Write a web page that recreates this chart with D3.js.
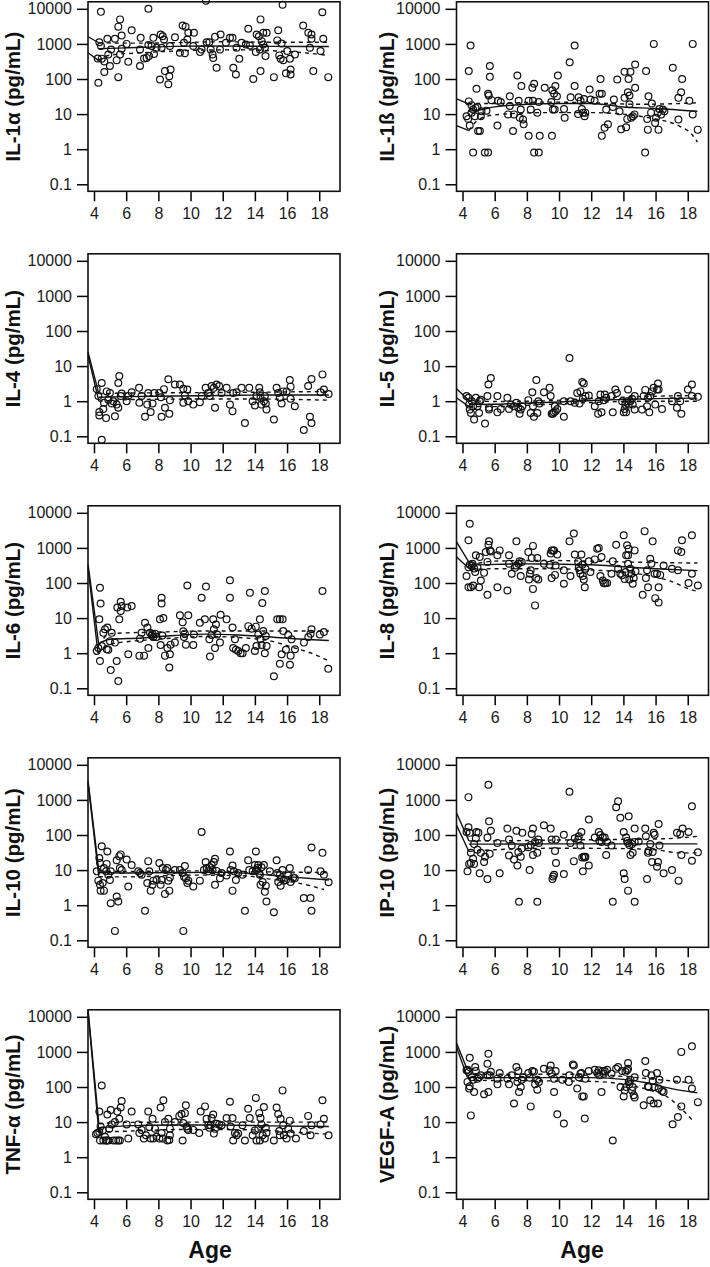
<!DOCTYPE html>
<html><head><meta charset="utf-8">
<script src="https://cdn.jsdelivr.net/npm/d3@7"></script>
<style>body{margin:0;background:#fff}svg{display:block}</style>
</head><body>
<svg id="c" width="710" height="1267"></svg>
<script>
const ageTicks=[4,6,8,10,12,14,16,18];
const yTicks=[0.1,1,10,100,1000,10000];
const yTickLabels=["0.1","1","10","100","1000","10000"];
const panelNames=["IL-1α (pg/mL)","IL-1ß (pg/mL)","IL-4 (pg/mL)","IL-5 (pg/mL)","IL-6 (pg/mL)","IL-8 (pg/mL)","IL-10 (pg/mL)","IP-10 (pg/mL)","TNF-α (pg/mL)","VEGF-A (pg/mL)"];
const xLabel="Age";

const il1a=[[4.27,78],[4.23,385],[4.43,8200],[4.33,1120],[4.43,870],[4.48,380],[4.64,158],[4.64,316],[4.83,1400],[4.89,500],[4.99,234],[5.06,690],[5.3,1400],[5.41,345],[5.51,113],[5.51,3100],[5.62,5000],[5.62,500],[5.72,1740],[5.72,730],[6.03,1000],[6.13,310],[6.34,2460],[6.86,234],[6.9,1490],[6.86,690],[7.11,385],[7.27,400],[7.38,10000],[7.38,930],[7.42,450],[7.58,870],[7.69,1490],[7.73,520],[7.89,775],[8.1,97],[8.14,1860],[8.27,1660],[8.35,1340],[8.2,775],[8.41,168],[8.62,71],[8.68,120],[8.76,187],[8.72,870],[9.03,1550],[9.34,560],[9.51,3350],[9.65,540],[9.69,3100],[9.8,1340],[9.86,2070],[9.59,1080],[10.17,870],[10.21,2070],[10.59,585],[10.69,690],[10.96,17000],[11.0,1120],[11.17,1120],[11.25,690],[11.37,500],[11.41,400],[11.52,1590],[11.62,210],[11.83,690],[11.87,1860],[12.2,1080],[12.45,1490],[12.61,1490],[12.66,210],[12.82,135],[12.86,775],[13.03,375],[13.17,1080],[13.44,960],[13.59,2700],[13.69,900],[13.9,100],[14.06,585],[14.11,1860],[14.25,1660],[14.31,690],[14.35,5000],[14.35,168],[14.42,1200],[14.52,960],[14.62,775],[14.66,450],[14.52,2070],[14.73,2070],[15.18,113],[15.45,2460],[15.39,1260],[15.51,470],[15.6,375],[15.66,1030],[15.72,13000],[15.76,345],[15.93,145],[16.01,625],[16.22,135],[16.22,187],[16.18,375],[16.49,500],[17.0,3350],[17.32,2070],[17.52,1860],[17.52,1400],[17.42,775],[17.63,168],[18.08,625],[18.19,8000],[18.25,1400],[18.56,113]];
const il1aFit=[[4.3,730],[5.5,760],[7,800],[9,850],[11,870],[13,860],[15,850],[17,845],[18.6,840]];
const il1aUp=[[3.63,1600],[4.3,1080],[6,1050],[9,1080],[12,1150],[15,1120],[18.6,1120]];
const il1aLo=[[3.63,560],[4.27,340],[5,480],[7,560],[10,650],[13,680],[15,640],[17,560],[18.6,470]];

const il1b=[[4.25,8.7],[4.35,7.3],[4.39,168],[4.39,23],[4.5,900],[4.45,4.7],[4.56,18],[4.56,11],[4.66,0.8],[4.66,13.5],[4.77,8.7],[4.81,15],[4.87,53],[4.93,16],[4.97,3.3],[5.08,3.3],[5.14,8.7],[5.18,12],[5.39,0.8],[5.49,12.5],[5.59,0.8],[5.59,38],[5.63,34],[5.7,234],[5.7,115],[5.8,25],[6.21,24],[6.17,4.7],[6.38,22],[6.94,32],[6.94,17],[6.83,9.8],[7.14,3.3],[7.2,9.8],[7.41,126],[7.49,24],[7.56,7.9],[7.62,13.5],[7.66,63],[7.76,7],[7.8,5.1],[8.11,2.4],[8.11,24],[8.24,13.5],[8.34,56],[8.45,73],[8.38,24],[8.45,0.8],[8.65,11],[8.74,0.8],[8.8,2.4],[8.74,22],[9.11,56],[9.52,22],[9.56,2.4],[9.58,48],[9.62,13.5],[9.69,38],[9.77,63],[9.73,13.5],[9.87,32],[9.93,126],[10.35,7.9],[10.31,14],[10.66,300],[10.72,30],[10.97,900],[10.97,63],[11.18,10],[11.22,30],[11.34,24],[11.42,14],[11.49,11],[11.55,27],[11.59,8.7],[11.63,11],[11.9,50],[11.96,26],[12.21,24],[12.52,38],[12.58,100],[12.66,38],[12.66,2.4],[12.83,4.1],[12.93,13.5],[13.04,5.1],[13.35,16],[13.41,26],[13.62,97],[13.76,12],[13.86,3.7],[14.07,29],[14.07,160],[14.17,4.2],[14.24,7.3],[14.28,42],[14.32,100],[14.38,34],[14.38,19],[14.44,160],[14.48,7.9],[14.59,8.7],[14.69,9.8],[14.73,56],[14.73,260],[15.35,0.8],[15.41,168],[15.48,7.3],[15.52,3.6],[15.56,32],[15.72,11],[15.77,20],[15.89,1000],[15.97,5.6],[16.03,7.9],[16.14,11],[16.18,3.6],[16.24,14],[16.35,9.8],[16.45,13.5],[16.55,12],[17.07,210],[17.42,7],[17.42,29],[17.59,42],[17.65,100],[18.1,24],[18.31,1000],[18.31,9.8],[18.62,3.6]];
const il1bFit=[[4.35,12],[5,13],[6,16],[8,19],[10,20],[12,20],[14,16],[16,14.5],[18.6,12]];
const il1bUp=[[3.63,27],[4.35,20],[6,20],[9,22],[12,21],[15,19],[18.6,21]];
const il1bLo=[[3.63,4.7],[4.4,3.4],[5,7],[6,9.5],[9,11],[12,11],[14,10],[15.5,8],[16.5,6.5],[17.5,4.5],[18.3,2.5],[18.6,1.6]];

const il4=[[4.17,2.2],[4.27,1.4],[4.33,0.49],[4.33,0.39],[4.48,3.3],[4.48,0.08],[4.58,0.6],[4.62,0.9],[4.75,0.33],[4.79,1.9],[4.89,1.1],[4.99,1.7],[5.1,0.86],[5.2,1.0],[5.3,0.37],[5.41,0.8],[5.51,3.3],[5.57,5.2],[5.51,0.65],[5.66,1.4],[5.72,1.65],[6.03,1.0],[6.13,1.4],[6.34,1.8],[6.8,2.4],[6.82,0.9],[6.96,1.4],[7.17,0.36],[7.31,0.8],[7.37,1.7],[7.52,0.49],[7.64,0.86],[7.75,1.7],[8.06,1.7],[8.16,1.3],[8.2,0.36],[8.35,2.2],[8.41,0.65],[8.62,4.2],[8.68,0.44],[8.72,1.07],[9.03,3.0],[9.34,3.0],[9.55,2.25],[9.55,0.9],[9.65,1.45],[9.8,2.15],[9.86,1.0],[10.17,0.8],[10.58,0.94],[10.69,1.4],[10.94,2.4],[11.1,1.7],[11.2,1.4],[11.31,2.7],[11.45,2.4],[11.52,0.65],[11.62,3.0],[11.78,2.7],[11.93,1.7],[12.24,2.4],[12.45,0.8],[12.61,0.52],[12.65,1.7],[12.86,1.8],[13.17,2.4],[13.38,0.24],[13.65,2.4],[13.86,1.0],[14.0,0.75],[14.1,1.4],[14.27,2.4],[14.31,1.8],[14.35,1.25],[14.41,0.8],[14.56,1.0],[14.62,1.4],[14.68,0.86],[14.72,0.58],[15.18,0.3],[15.35,2.4],[15.45,1.7],[15.55,1.25],[15.66,0.86],[15.76,1.9],[15.97,1.9],[16.17,4.0],[16.22,2.6],[16.22,1.17],[16.48,0.72],[17.04,0.15],[17.31,2.7],[17.42,0.36],[17.52,0.24],[17.52,4.3],[18.08,1.8],[18.2,5.8],[18.29,2.15],[18.58,1.6]];
const il4Fit=[[4.3,1.3],[6,1.35],[9,1.4],[12,1.45],[15,1.5],[18.6,1.5]];
const il4Up=[[3.63,25],[4.3,1.65],[6,1.7],[10,1.75],[14,1.8],[18.6,1.9]];
const il4Lo=[[3.63,20],[4.3,1.0],[6,1.1],[10,1.15],[14,1.15],[18.6,1.07]];

const il5=[[4.25,1.4],[4.37,1.25],[4.41,0.8],[4.45,0.58],[4.52,0.46],[4.58,1.0],[4.66,0.72],[4.72,0.3],[4.83,1.25],[4.93,0.72],[5.03,0.46],[5.07,1.0],[5.14,1.1],[5.4,0.23],[5.55,1.4],[5.61,3.0],[5.65,0.58],[5.76,4.6],[5.65,0.65],[6.17,0.48],[6.17,1.4],[6.38,0.6],[6.79,1.25],[6.89,0.6],[7.0,0.8],[7.2,0.72],[7.35,0.9],[7.47,0.65],[7.55,0.44],[7.62,0.58],[7.72,0.72],[8.09,1.07],[8.24,0.46],[8.34,1.8],[8.38,0.72],[8.44,0.36],[8.59,4.0],[8.65,0.46],[8.71,1.0],[8.79,0.86],[9.06,1.8],[9.41,2.4],[9.48,1.4],[9.54,0.44],[9.62,0.44],[9.68,0.48],[9.74,0.72],[9.79,0.52],[9.89,0.6],[10.3,0.36],[10.3,1.0],[10.65,17],[10.71,1.0],[10.98,0.9],[11.13,1.7],[11.27,0.86],[11.33,1.9],[11.44,3.5],[11.54,3.2],[11.48,1.17],[11.64,1.4],[11.85,1.45],[12.22,0.72],[12.43,0.44],[12.47,1.0],[12.57,1.55],[12.64,0.48],[12.78,1.07],[12.84,1.55],[12.93,1.25],[13.26,1.4],[13.34,0.48],[13.5,2.15],[13.6,1.7],[13.92,1.0],[14.02,0.48],[14.08,0.6],[14.12,0.8],[14.17,0.48],[14.23,1.0],[14.29,2.15],[14.33,0.8],[14.43,1.0],[14.54,1.17],[14.58,0.8],[14.7,1.4],[14.7,0.58],[15.16,0.58],[15.26,1.4],[15.36,2.1],[15.47,0.72],[15.53,1.25],[15.61,0.48],[15.67,1.4],[15.78,1.9],[15.88,2.4],[15.98,0.8],[16.09,2.15],[16.15,3.2],[16.19,2.15],[16.4,0.6],[17.02,1.0],[17.33,0.65],[17.39,1.4],[17.53,1.0],[17.6,0.44],[18.01,2.15],[18.26,3.0],[18.26,1.4],[18.63,1.33]];
const il5Fit=[[4.4,0.8],[6,0.82],[8,0.88],[10,0.95],[12,1.05],[14,1.12],[16,1.18],[18.6,1.22]];
const il5Up=[[3.63,2.25],[4.4,1.05],[6,0.98],[9,1.02],[12,1.2],[15,1.35],[18.6,1.45]];
const il5Lo=[[3.63,1.25],[4.4,0.7],[6,0.7],[9,0.8],[12,0.92],[15,1.0],[18.6,1.0]];

const il6=[[4.17,1.15],[4.27,1.4],[4.37,73],[4.41,26],[4.33,9.2],[4.37,0.6],[4.48,1.6],[4.58,3.8],[4.68,4.8],[4.83,5.4],[4.79,1.3],[4.89,1.25],[4.99,2.2],[5.04,0.33],[5.1,3.8],[5.3,2.0],[5.41,0.6],[5.45,20],[5.51,0.16],[5.57,9.2],[5.66,16],[5.66,29],[5.72,22],[6.07,20],[6.13,0.93],[6.34,22],[6.82,0.85],[6.86,2.6],[6.96,3.8],[7.11,0.85],[7.17,7.4],[7.32,5.4],[7.38,1.4],[7.48,3.8],[7.58,3.2],[7.64,3.5],[7.69,2.9],[7.79,3.6],[7.89,2.9],[8.14,1.7],[8.2,38],[8.2,26],[8.1,9.2],[8.25,3.2],[8.31,10],[8.41,0.85],[8.56,1.4],[8.68,0.39],[8.72,0.93],[8.76,1.75],[9.03,2.0],[9.34,12],[9.51,7.6],[9.55,4.2],[9.59,2.9],[9.65,3.6],[9.71,1.75],[9.8,85],[9.86,12],[10.17,1.7],[10.21,3.4],[10.58,7.4],[10.69,38],[10.89,9.2],[10.96,79],[11.17,2.5],[11.21,0.8],[11.31,3.3],[11.41,9.2],[11.45,4.8],[11.52,1.4],[11.58,6.6],[11.66,3.4],[11.83,2.0],[11.87,12.5],[12.24,9.2],[12.45,120],[12.45,38],[12.61,5.4],[12.65,1.4],[12.76,2.5],[12.82,1.25],[12.97,1.15],[13.11,1.0],[13.24,1.0],[13.44,1.4],[13.59,5.9],[13.69,53],[13.8,5.0],[14.0,1.15],[14.06,5.7],[14.1,1.6],[14.21,3.4],[14.31,9.2],[14.35,2.5],[14.42,1.7],[14.46,27],[14.52,4.3],[14.62,59],[14.62,1.0],[14.73,1.6],[14.68,3.1],[15.18,0.22],[15.39,9.2],[15.55,0.5],[15.55,9.2],[15.66,0.93],[15.72,9.2],[15.76,4.3],[15.93,1.25],[16.07,3.3],[16.18,0.47],[16.22,0.85],[16.28,2.5],[16.49,1.3],[17.05,2.0],[17.32,2.9],[17.46,3.6],[17.52,4.8],[18.04,3.4],[18.2,59],[18.29,4.0],[18.56,0.36]];
const il6Fit=[[4.4,2.0],[5,2.5],[7,2.7],[9,3.2],[11,3.5],[13,3.3],[15,2.9],[17,2.5],[18.6,2.3]];
const il6Up=[[3.63,340],[4.3,1.7],[5,3.6],[8,4.0],[11,4.3],[14,4.3],[17,4.3],[18.6,4.3]];
const il6Lo=[[3.63,270],[4.25,1.0],[5,1.8],[8,2.5],[11,3.0],[13,2.8],[15,2.2],[16.5,1.4],[17.5,1.0],[18.6,0.6]];

const il8=[[4.25,158],[4.37,76],[4.37,280],[4.37,1650],[4.45,4900],[4.45,330],[4.52,76],[4.58,315],[4.62,355],[4.66,85],[4.72,260],[4.79,205],[4.83,620],[4.93,280],[5.03,76],[5.07,550],[5.14,117],[5.34,195],[5.45,760],[5.55,46],[5.55,400],[5.61,1230],[5.65,1540],[5.71,850],[5.76,790],[6.17,76],[6.17,620],[6.31,850],[6.79,61],[6.89,355],[6.89,620],[7.06,183],[7.26,270],[7.35,1540],[7.35,315],[7.47,355],[7.55,415],[7.62,158],[7.68,400],[8.09,760],[8.13,126],[8.19,183],[8.24,230],[8.3,515],[8.38,1140],[8.38,68],[8.51,23],[8.59,138],[8.65,515],[8.71,126],[9.06,355],[9.41,330],[9.48,690],[9.54,850],[9.54,138],[9.63,850],[9.69,850],[9.75,170],[9.79,315],[9.89,650],[10.3,230],[10.3,95],[10.65,1540],[10.71,158],[10.92,2570],[10.98,650],[11.19,400],[11.23,280],[11.27,230],[11.33,183],[11.39,650],[11.44,330],[11.48,158],[11.54,126],[11.6,76],[11.64,255],[11.85,415],[11.95,205],[12.22,470],[12.37,950],[12.47,1000],[12.57,158],[12.64,550],[12.72,117],[12.78,98],[12.88,98],[12.99,100],[13.26,183],[13.34,415],[13.55,1230],[13.67,255],[13.81,183],[13.92,165],[14.02,2300],[14.08,131],[14.13,205],[14.17,620],[14.23,1190],[14.29,355],[14.29,620],[14.33,950],[14.37,126],[14.43,255],[14.5,183],[14.58,95],[14.64,138],[14.7,850],[14.75,215],[15.2,46],[15.32,3000],[15.4,138],[15.47,230],[15.53,76],[15.67,490],[15.74,355],[15.82,1540],[15.94,183],[15.98,37],[16.09,183],[16.19,28],[16.19,76],[16.29,170],[16.5,315],[17.02,255],[17.39,230],[17.39,850],[17.6,760],[17.64,1650],[18.05,100],[18.26,2300],[18.26,183],[18.63,85]];
const il8Fit=[[4.5,320],[6,340],[8,350],[10,345],[12,330],[14,290],[16,255],[18.6,225]];
const il8Up=[[3.63,1480],[4.5,330],[6,420],[9,440],[12,420],[15,390],[18.6,370]];
const il8Lo=[[3.63,550],[4.5,240],[6,255],[9,255],[12,235],[14,205],[15.5,165],[17,110],[18.2,65],[18.6,58]];

const il10=[[4.17,9.2],[4.27,5.0],[4.33,22],[4.37,16],[4.37,3.8],[4.41,2.6],[4.48,48],[4.54,4.3],[4.62,2.6],[4.62,11.5],[4.75,9.2],[4.79,15],[4.83,34],[4.89,7.4],[4.99,5.2],[5.04,1.14],[5.04,9.2],[5.3,0.185],[5.41,1.77],[5.51,1.27],[5.41,19],[5.57,25],[5.61,11.5],[5.66,28],[5.72,10],[6.03,20],[6.13,3.4],[6.34,14],[6.75,9.2],[6.86,8.2],[6.96,7.4],[7.17,0.69],[7.31,4.3],[7.37,18],[7.44,9.2],[7.52,2.6],[7.64,3.8],[7.69,5.0],[7.89,5.2],[8.06,16],[8.14,3.8],[8.2,5.2],[8.27,11.5],[8.41,2.1],[8.47,10],[8.56,11.5],[8.62,5.0],[8.68,2.6],[8.72,6.2],[9.03,10],[9.34,10],[9.51,8.2],[9.55,0.185],[9.59,6.5],[9.65,13],[9.71,5.9],[9.8,4.3],[9.86,5.0],[10.17,3.4],[10.58,5.0],[10.69,122],[10.83,10],[10.94,17],[11.0,11.5],[11.1,9.2],[11.2,12],[11.31,14],[11.37,10],[11.45,17],[11.52,21],[11.52,3.8],[11.62,9.5],[11.83,5.9],[11.93,8.2],[12.24,7.0],[12.45,34],[12.49,10],[12.61,13.5],[12.61,2.6],[12.7,9.2],[12.82,5.2],[12.96,8.2],[13.23,7.4],[13.38,0.69],[13.58,19],[13.65,10],[13.86,9.2],[14.0,14],[14.06,34],[14.1,10],[14.15,11.5],[14.21,14],[14.27,8.2],[14.31,7.4],[14.35,3.8],[14.41,12],[14.48,4.6],[14.56,14],[14.62,2.4],[14.68,3.6],[14.72,1.27],[14.93,9.2],[15.18,0.63],[15.35,19],[15.39,8.2],[15.45,4.6],[15.55,7.4],[15.6,3.6],[15.66,5.9],[15.72,10],[15.8,5.0],[15.93,5.2],[16.07,7.0],[16.17,11.5],[16.22,4.6],[16.38,6.2],[16.48,5.9],[17.04,1.6],[17.31,10],[17.46,1.6],[17.52,0.69],[17.52,44],[18.08,9.2],[18.2,31],[18.29,7.4],[18.58,4.5]];
const il10Fit=[[4.3,8.5],[6,8.3],[9,8.5],[12,8.6],[14,7.8],[16,6.5],[18.6,5.2]];
const il10Up=[[3.63,3500],[4.3,9.5],[6,9.2],[10,9.5],[14,9.0],[18.6,8.5]];
const il10Lo=[[3.63,3000],[4.3,6.5],[6,6.4],[10,7.2],[13,7.0],[15,5.5],[17,4.0],[18.3,2.8]];

const ip10=[[4.25,122],[4.31,9.2],[4.37,1200],[4.37,166],[4.41,15],[4.45,115],[4.52,31],[4.52,16],[4.66,21],[4.72,15],[4.72,55],[4.83,81],[4.87,122],[4.99,115],[4.93,38],[5.07,8.1],[5.14,31],[5.34,17],[5.4,24],[5.55,85],[5.55,5.6],[5.61,2700],[5.65,245],[5.69,29],[5.76,132],[6.17,59],[6.31,8.1],[6.79,152],[6.89,74],[6.89,26],[7.06,50],[7.2,20],[7.35,132],[7.41,13.5],[7.47,32],[7.51,1.25],[7.62,24],[7.68,41],[7.72,115],[8.09,45],[8.17,10],[8.24,52],[8.3,107],[8.38,27],[8.38,152],[8.51,63],[8.65,1.25],[8.65,31],[8.71,74],[8.75,59],[9.06,190],[9.48,152],[9.54,74],[9.59,5.6],[9.63,6.6],[9.69,7.4],[9.75,35],[9.81,16],[9.81,74],[10.3,7.7],[10.3,102],[10.65,1700],[10.71,59],[10.92,18],[10.98,81],[11.19,74],[11.23,92],[11.33,50],[11.39,122],[11.44,23],[11.48,9.2],[11.54,24],[11.6,23],[11.64,24],[11.85,13.5],[11.85,275],[12.22,85],[12.47,122],[12.51,68],[12.57,100],[12.64,63],[12.72,85],[12.84,85],[12.93,27],[12.99,63],[13.26,50],[13.34,1.25],[13.55,620],[13.67,910],[13.81,310],[14.02,122],[14.02,8.1],[14.08,5.6],[14.17,85],[14.23,68],[14.29,59],[14.29,2.6],[14.33,340],[14.37,52],[14.44,27],[14.54,55],[14.58,31],[14.7,1.25],[14.7,152],[14.7,63],[14.95,65],[15.36,152],[15.4,92],[15.47,5.6],[15.53,31],[15.57,35],[15.67,55],[15.78,17],[15.82,33],[15.88,115],[15.94,102],[16.09,12.5],[16.15,17],[16.19,205],[16.24,50],[16.5,8.1],[17.02,10],[17.33,115],[17.43,5.0],[17.53,107],[17.6,27],[17.68,152],[18.05,122],[18.26,660],[18.26,18.5],[18.63,32]];
const ip10Fit=[[4.4,55],[6,55],[10,56],[14,56],[18.6,56]];
const ip10Up=[[3.63,425],[4.4,68],[6,68],[10,72],[14,75],[16.5,78],[18.6,92]];
const ip10Lo=[[3.63,190],[4.4,34],[6,38],[10,42],[14,41],[16,38],[17.5,31],[18.6,31]];

const tnfa=[[4.12,4.5],[4.21,4.9],[4.33,5.2],[4.33,20],[4.37,3.0],[4.41,7.5],[4.48,110],[4.54,5.8],[4.58,3.0],[4.68,3.8],[4.75,3.0],[4.79,3.0],[4.83,16.5],[4.89,3.0],[4.95,6.5],[5.04,22],[5.1,8.6],[5.2,3.0],[5.3,10],[5.37,3.0],[5.45,20],[5.51,3.0],[5.57,12.4],[5.61,3.0],[5.66,26],[5.72,40],[6.03,8.6],[6.13,3.4],[6.34,20],[6.75,8.6],[6.82,4.9],[6.96,6.0],[7.1,3.4],[7.23,4.2],[7.37,20],[7.44,7.2],[7.52,3.4],[7.64,12.4],[7.69,3.4],[7.79,6.5],[7.89,3.8],[8.06,3.4],[8.14,26],[8.2,4.9],[8.27,3.4],[8.31,42],[8.41,10],[8.56,3.0],[8.62,12.4],[8.68,3.1],[8.72,6.5],[8.72,4.2],[9.03,10],[9.3,15],[9.44,17],[9.51,3.0],[9.55,9.4],[9.65,18],[9.71,30],[9.75,7.5],[9.8,6.5],[9.86,6.0],[10.17,6.0],[10.54,4.9],[10.63,20],[10.9,28],[11.0,12.4],[11.1,8.1],[11.17,6.9],[11.25,8.1],[11.31,13],[11.41,16.5],[11.45,4.7],[11.52,6.5],[11.62,9],[11.78,8.6],[11.93,8.1],[12.24,13],[12.45,38],[12.49,7.5],[12.61,13],[12.65,3.0],[12.76,4.9],[12.86,4.2],[12.96,4.7],[13.23,8.1],[13.38,3.0],[13.58,24],[13.68,13],[13.86,4.2],[14.06,49],[14.0,5.8],[14.1,3.0],[14.21,6.5],[14.27,18],[14.31,3.0],[14.35,13],[14.41,8.6],[14.48,4.2],[14.56,27],[14.62,3.4],[14.68,6.9],[14.72,4.9],[15.18,3.0],[15.35,26],[15.45,17],[15.51,5.6],[15.55,4.2],[15.6,12.4],[15.72,80],[15.76,8.1],[15.8,4.2],[15.97,3.4],[16.07,6.5],[16.17,11],[16.22,4.7],[16.55,3.4],[17.04,5.6],[17.31,15],[17.46,4.2],[17.52,8.1],[18.08,8.6],[18.2,42],[18.29,12.4],[18.58,4.2]];
const tnfaFit=[[4.3,6.9],[6,7.8],[9,8.3],[12,8.3],[15,7.8],[18.6,7.5]];
const tnfaUp=[[3.63,15800],[4.3,9],[6,9.8],[10,10],[14,10],[18.6,10]];
const tnfaLo=[[3.63,14000],[4.3,5.2],[6,5.5],[10,6.2],[14,6.0],[16,5.3],[18.6,4.5]];

const vegfa=[[4.25,300],[4.31,310],[4.31,140],[4.37,270],[4.41,90],[4.45,680],[4.45,105],[4.52,15.5],[4.58,190],[4.66,160],[4.72,72],[4.79,370],[4.83,285],[4.93,173],[5.03,190],[5.14,215],[5.34,62],[5.55,460],[5.55,215],[5.61,890],[5.61,72],[5.76,270],[5.69,215],[6.17,119],[6.17,173],[6.31,250],[6.79,173],[6.89,119],[7.06,215],[7.2,34],[7.35,370],[7.41,140],[7.47,285],[7.51,72],[7.62,100],[7.68,160],[7.76,190],[8.09,250],[8.17,185],[8.24,28],[8.34,285],[8.44,270],[8.51,119],[8.65,84],[8.65,160],[8.75,140],[9.06,330],[9.41,300],[9.48,410],[9.54,240],[9.69,173],[9.69,72],[9.79,285],[9.89,16.6],[10.2,160],[10.3,9.1],[10.61,140],[10.65,215],[10.86,440],[10.92,410],[11.13,90],[11.23,190],[11.33,240],[11.39,250],[11.44,54],[11.54,54],[11.6,12.6],[11.64,173],[11.85,285],[12.22,310],[12.37,250],[12.47,300],[12.51,215],[12.64,72],[12.72,285],[12.78,240],[12.84,285],[12.99,310],[13.26,240],[13.34,3.0],[13.55,330],[13.67,370],[13.82,100],[13.92,285],[14.02,54],[14.08,80],[14.13,270],[14.17,100],[14.23,300],[14.29,480],[14.29,330],[14.33,140],[14.37,119],[14.44,160],[14.54,80],[14.64,58],[14.7,50],[14.7,190],[14.58,100],[15.26,30],[15.36,550],[15.4,250],[15.53,105],[15.57,100],[15.67,42],[15.74,215],[15.82,148],[15.88,34],[15.94,100],[16.09,250],[16.15,34],[16.19,90],[16.24,160],[16.4,77],[16.5,72],[17.06,8.7],[17.33,160],[17.39,14],[17.6,1000],[17.6,28],[18.05,160],[18.26,1440],[18.26,90],[18.63,37]];
const vegfaFit=[[4.4,185],[6,185],[9,185],[12,185],[14,165],[15.5,130],[17,90],[18.6,68]];
const vegfaUp=[[3.63,1780],[4.3,310],[5,230],[9,230],[12,230],[14,200],[16,165],[18.4,130]];
const vegfaLo=[[3.63,1370],[4.3,190],[5,155],[9,150],[12,145],[14,120],[15.5,85],[16.8,50],[17.6,24],[18.4,10]];

const panels=[
 {pts:il1a,fit:il1aFit,up:il1aUp,lo:il1aLo},
 {pts:il1b,fit:il1bFit,up:il1bUp,lo:il1bLo},
 {pts:il4,fit:il4Fit,up:il4Up,lo:il4Lo},
 {pts:il5,fit:il5Fit,up:il5Up,lo:il5Lo},
 {pts:il6,fit:il6Fit,up:il6Up,lo:il6Lo},
 {pts:il8,fit:il8Fit,up:il8Up,lo:il8Lo},
 {pts:il10,fit:il10Fit,up:il10Up,lo:il10Lo},
 {pts:ip10,fit:ip10Fit,up:ip10Up,lo:ip10Lo},
 {pts:tnfa,fit:tnfaFit,up:tnfaUp,lo:tnfaLo},
 {pts:vegfa,fit:vegfaFit,up:vegfaUp,lo:vegfaLo}
];

const FONT="'Liberation Sans', Arial, Helvetica, sans-serif";
const W=252, H=189.5;
const colLeft=[88,456.5];
const labelX=[20,394];
const ageX=[210,582];
const svg=d3.select("#c");
svg.append("rect").attr("width",710).attr("height",1267).attr("fill","#fff");

const x=d3.scaleLinear().domain([3.627,19.29]).range([0,W]);
const y=d3.scaleLog().domain([Math.pow(10,-1.2),Math.pow(10,4.2)]).range([H,0]);
const line=d3.line().x(d=>x(d[0])).y(d=>y(d[1])).curve(d3.curveMonotoneX);
const seg=d3.line().x(d=>x(d[0])).y(d=>y(d[1]));

panels.forEach((p,i)=>{
  const col=i%2, row=Math.floor(i/2);
  const g=svg.append("g").attr("transform",`translate(${colLeft[col]},${1.8+252*row})`);
  const ya=g.append("g").call(d3.axisLeft(y).tickValues(yTicks).tickFormat((d,k)=>yTickLabels[k]).tickSize(11).tickPadding(5));
  const xa=g.append("g").attr("transform",`translate(0,${H})`).call(d3.axisBottom(x).tickValues(ageTicks).tickFormat(d3.format("d")).tickSize(10).tickPadding(6));
  [ya,xa].forEach(a=>{
    a.select(".domain").remove();
    a.selectAll("line").attr("stroke","#000").attr("stroke-width",1.5);
    a.selectAll("text").attr("font-family",FONT).attr("font-size",16).attr("fill","#1a1a1a");
  });
  [p.up,p.lo].forEach(b=>{
    g.append("path").attr("d",seg(b.slice(0,2))).attr("fill","none").attr("stroke","#111").attr("stroke-width",1.4);
    g.append("path").attr("d",line(b.slice(1))).attr("fill","none").attr("stroke","#111").attr("stroke-width",1.4).attr("stroke-dasharray","4,4");
  });
  g.append("path").attr("d",line(p.fit)).attr("fill","none").attr("stroke","#111").attr("stroke-width",1.4);
  g.append("g").selectAll("circle").data(p.pts).join("circle")
    .attr("cx",d=>x(d[0])).attr("cy",d=>y(d[1])).attr("r",3.4)
    .attr("fill","none").attr("stroke","#111").attr("stroke-width",1.2);
  g.append("rect").attr("x",0).attr("y",0).attr("width",W).attr("height",H)
    .attr("fill","none").attr("stroke","#111").attr("stroke-width",1.6);
  svg.append("text").attr("transform",`translate(${labelX[col]},${1.8+252*row+H/2}) rotate(-90)`)
    .attr("text-anchor","middle").attr("font-family",FONT).attr("font-weight","bold")
    .attr("font-size",20.5).attr("fill","#111").text(panelNames[i]);
});
[0,1].forEach(c=>{
  svg.append("text").attr("x",ageX[c]).attr("y",1258).attr("text-anchor","middle")
    .attr("font-family",FONT).attr("font-weight","bold").attr("font-size",23).attr("fill","#111").text(xLabel);
});
</script>
</body></html>
